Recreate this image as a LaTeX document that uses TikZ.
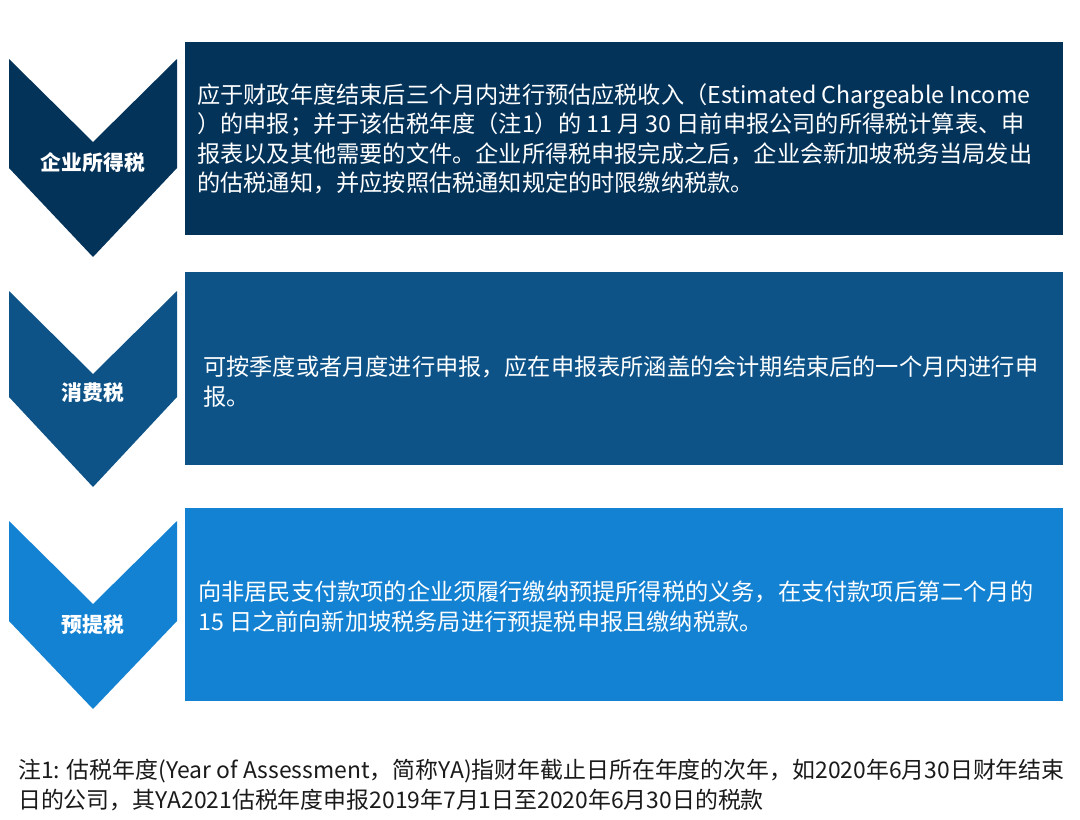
\documentclass[tikz,border=0pt]{standalone}
\usepackage{fontspec}
\setmainfont{Noto Sans CJK SC}
\usetikzlibrary{positioning}

\definecolor{navy}{HTML}{04335A}
\definecolor{midblue}{HTML}{0D5388}
\definecolor{brightblue}{HTML}{1482D2}
\definecolor{notegray}{HTML}{1A1A1A}

\begin{document}
\begin{tikzpicture}[x=1pt,y=-1pt,
                    box/.style={minimum width=878pt,minimum height=193pt,anchor=north west,inner sep=0pt},
                    body text/.style={text=white,font=\fontsize{23.2}{29.5}\selectfont,align=left,inner sep=0pt},
                    tag/.style={text=white,font=\bfseries\fontsize{20.8}{24}\selectfont,inner sep=0pt}]
	\useasboundingbox[fill=white] (0,0) rectangle (1080,820);

	% chevrons on the left
	\foreach \t/\s/\e/\c in {59/109/198/navy, 291/106/196/midblue, 521/100/188/brightblue}
	  \fill[\c] (9,\t) -- (93,\t+83) -- (177,\t) -- (177,\t+\s) -- (93,\t+\e) -- (9,\t+\s) -- cycle;

	\node[tag](tag1) at (93,163){企业所得税};
	\node[tag](tag2) at (93,393){消费税};
	\node[tag](tag3) at (93,625){预提税};

	% boxes with the text
	\node[box,fill=navy](box1) at (185,42){};
	\node[box,fill=midblue](box2) at (185,272){};
	\node[box,fill=brightblue](box3) at (185,508){};

	\node[body text,anchor=west,right=12pt of box1.west](text1){应于财政年度结束后三个月内进行预估应税收入（Estimated Chargeable Income\\
	）的申报；并于该估税年度（注1）的 11 月 30 日前申报公司的所得税计算表、申\\
	报表以及其他需要的文件。企业所得税申报完成之后，企业会新加坡税务当局发出\\
	的估税通知，并应按照估税通知规定的时限缴纳税款。};
	\node[body text,anchor=west,right=18pt of box2.west,yshift=-13pt](text2){可按季度或者月度进行申报，应在申报表所涵盖的会计期结束后的一个月内进行申\\
	报。};
	\node[body text,anchor=west,right=13pt of box3.west,yshift=-2pt](text3){向非居民支付款项的企业须履行缴纳预提所得税的义务，在支付款项后第二个月的\\
	15 日之前向新加坡税务局进行预提税申报且缴纳税款。};

	% footnote
	\node[text=notegray,font=\fontsize{22.9}{29.5}\selectfont,align=left,anchor=west,inner sep=0pt](note) at (18,785){注1: 估税年度(Year of Assessment，简称YA)指财年截止日所在年度的次年，如2020年6月30日财年结束\\
	日的公司，其YA2021估税年度申报2019年7月1日至2020年6月30日的税款};
\end{tikzpicture}
\end{document}
